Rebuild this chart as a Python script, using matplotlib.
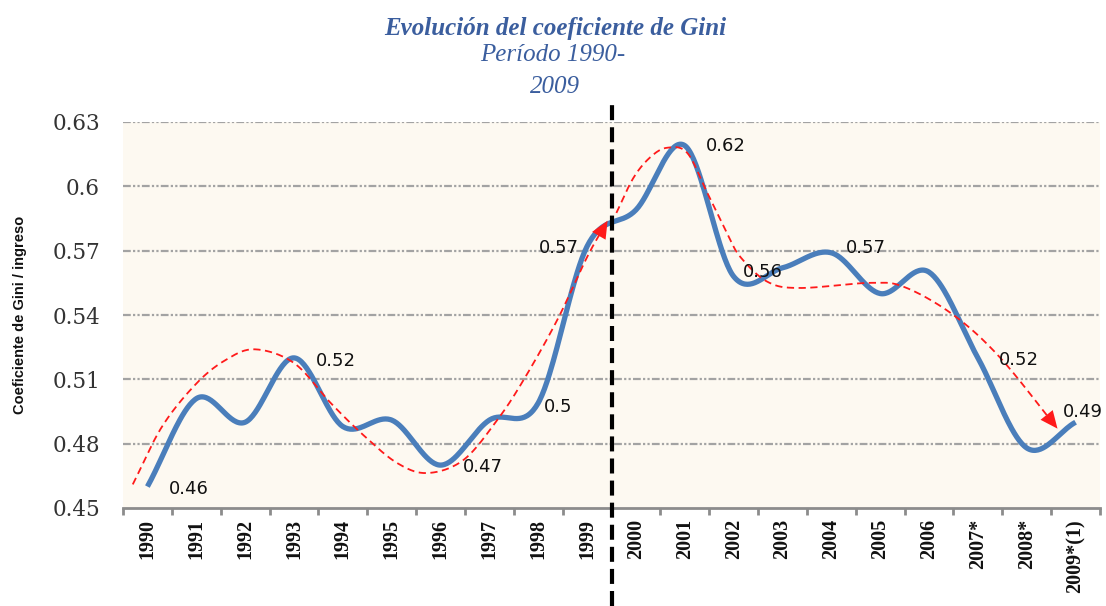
import numpy as np
import matplotlib
matplotlib.use("Agg")
import matplotlib.pyplot as plt

# ---------------- data ----------------
years = ["1990", "1991", "1992", "1993", "1994", "1995", "1996", "1997", "1998", "1999",
         "2000", "2001", "2002", "2003", "2004", "2005", "2006", "2007*", "2008*", "2009*(1)"]
gini = [0.460, 0.501, 0.490, 0.520, 0.488, 0.491, 0.470, 0.491, 0.499, 0.572,
        0.589, 0.619, 0.558, 0.562, 0.569, 0.550, 0.560, 0.520, 0.478, 0.490]

# trend curves, x in category index units
trend1_x = [-0.3, 0.3, 1.0, 1.6, 2.2, 3.0, 3.75, 4.42, 5.11, 5.73, 6.47, 7.16, 7.7, 8.39, 9.0, 9.42]
trend1_y = [0.461, 0.488, 0.508, 0.519, 0.524, 0.5176, 0.499, 0.484, 0.471, 0.4663, 0.4724, 0.491, 0.5097, 0.5377, 0.567, 0.584]
trend2_x = [9.6, 9.95, 10.3, 10.64, 11.05, 11.46, 11.87, 12.14, 12.7, 13.37, 14.8, 15.5, 16.5, 17.46, 18.63]
trend2_y = [0.5876, 0.604, 0.6137, 0.618, 0.6156, 0.597, 0.578, 0.567, 0.5554, 0.5526, 0.555, 0.553, 0.540, 0.520, 0.487]

labelled = [0, 3, 6, 8, 9, 11, 12, 14, 17, 19]
label_pos = [(0.43, 0.4589), (3.44, 0.5186), (6.45, 0.4691), (8.11, 0.4971), (8.02, 0.5713),
             (11.44, 0.6188), (12.18, 0.560), (14.29, 0.5713), (17.44, 0.519), (18.75, 0.4948)]

yticks = [0.45, 0.48, 0.51, 0.54, 0.57, 0.6, 0.63]
ytick_labels = ["0.45", "0.48", "0.51", "0.54", "0.57", "0.6", "0.63"]


def catmull_rom(xs, ys, n=40):
    P = np.column_stack([xs, ys]).astype(float)
    P = np.vstack([2 * P[0] - P[1], P, 2 * P[-1] - P[-2]])
    out = []
    t = np.linspace(0, 1, n)[:, None]
    for i in range(1, len(P) - 2):
        p0, p1, p2, p3 = P[i - 1], P[i], P[i + 1], P[i + 2]
        seg = 0.5 * ((2 * p1) + (-p0 + p2) * t + (2 * p0 - 5 * p1 + 4 * p2 - p3) * t ** 2
                     + (-p0 + 3 * p1 - 3 * p2 + p3) * t ** 3)
        out.append(seg if i == 1 else seg[1:])
    S = np.vstack(out)
    return S[:, 0], S[:, 1]


fig = plt.figure(figsize=(11.06, 6.06), dpi=100)
ax = fig.add_axes([123 / 1106, 1 - 508 / 606, (1100 - 123) / 1106, (508 - 122) / 606])
ax.set_facecolor("#fdf9f1")

x = np.arange(len(years))
ax.set_xlim(-0.5, len(years) - 0.5)
ax.set_ylim(0.45, 0.63)

# grid
for yv in yticks[1:]:
    ax.axhline(yv, color="#a3a3a3", lw=1.6, linestyle=(0, (3.5, 1, 1, 1, 1, 1)), zorder=1)

# blue smoothed line
sx, sy = catmull_rom(x, gini)
ax.plot(sx, sy, color="#4a7ebb", lw=3.8, solid_capstyle="butt", zorder=3)

# red trend lines with arrows
for tx, ty in [(trend1_x, trend1_y), (trend2_x, trend2_y)]:
    rx, ry = catmull_rom(tx, ty)
    ax.plot(rx[:-6], ry[:-6], color="#ff1a1a", lw=1.3, linestyle=(0, (4, 2.5)), zorder=4)
    ax.annotate("", xy=(rx[-1], ry[-1]), xytext=(rx[-10], ry[-10]),
                arrowprops=dict(arrowstyle="-|>,head_length=0.9,head_width=0.4",
                                mutation_scale=14, color="#ff1a1a", lw=0,
                                shrinkA=0, shrinkB=0), zorder=5)

# vertical dashed black line
ax.axvline(9.5, ymin=(508 - 606) / 386, ymax=(508 - 100) / 386, color="black", lw=3,
           linestyle=(0, (3.6, 1.7)), clip_on=False, zorder=6)

# data labels
for i, (lx, ly) in zip(labelled, label_pos):
    ax.text(lx, ly, "{:g}".format(round(gini[i], 2)), fontsize=13, family="DejaVu Sans",
            color="#111111", ha="left", va="center", zorder=7)

# axes styling
for s in ["left", "right", "top"]:
    ax.spines[s].set_visible(False)
ax.spines["bottom"].set_color("#8c8c8c")
ax.spines["bottom"].set_linewidth(2)

ax.set_yticks(yticks)
ax.set_yticklabels(ytick_labels, family="DejaVu Serif", fontsize=15.5, color="#333333")
ax.tick_params(axis="y", length=0, pad=16.5)

ax.set_xticks(x)
ax.set_xticklabels(years, rotation=90, family="Liberation Serif", fontsize=14.5,
                   fontweight="bold", color="#111111")
ax.tick_params(axis="x", which="major", length=0, pad=8)
ax.set_xticks(np.arange(-0.5, len(years)), minor=True)
ax.tick_params(axis="x", which="minor", length=5, width=2, color="#8c8c8c", direction="out")

# titles
tcol = "#3b5e9e"
fig.text(555 / 1106, 1 - 28 / 606, "Evolución del coeficiente de Gini", ha="center", va="center",
         family="Liberation Serif", style="italic", fontweight="bold", fontsize=18, color=tcol)
fig.text(553 / 1106, 1 - 55 / 606, "Período 1990-", ha="center", va="center",
         family="Liberation Serif", style="italic", fontsize=18, color=tcol)
fig.text(555 / 1106, 1 - 87 / 606, "2009", ha="center", va="center",
         family="Liberation Serif", style="italic", fontsize=18, color=tcol)

fig.text(20 / 1106, 1 - 315 / 606, "Coeficiente de Gini / ingreso", rotation=90,
         ha="center", va="center", family=["Liberation Sans", "DejaVu Sans"],
         fontweight="bold", fontsize=10.5, color="#111111")

fig.savefig("out.png", dpi=100, facecolor="white")
